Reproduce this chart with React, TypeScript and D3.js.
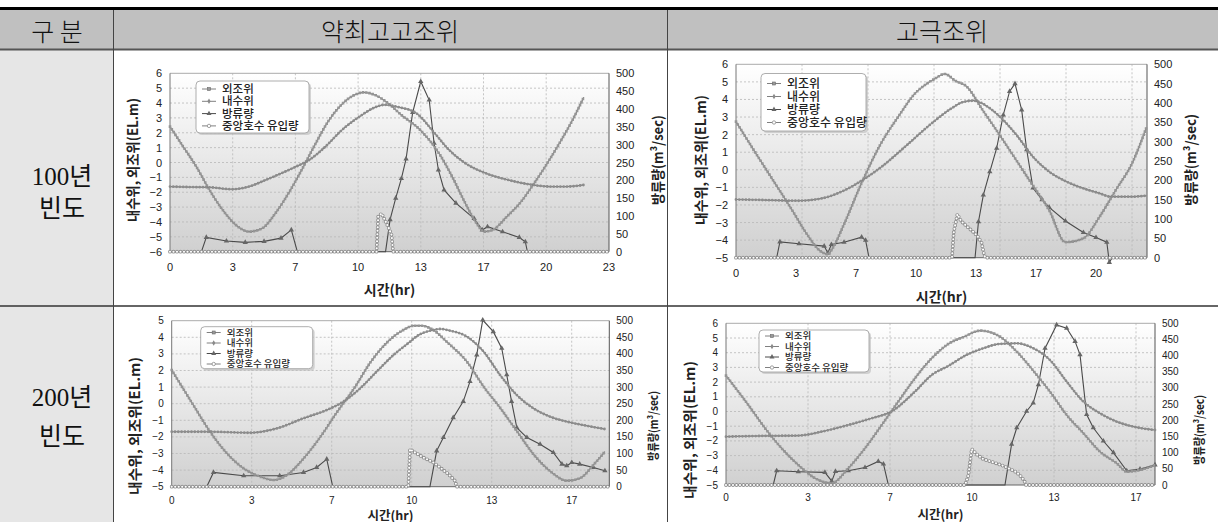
import React, { useEffect, useRef } from 'react';
import * as d3 from 'd3';

type Pt = [number, number];

// table text
const colHeaders = ['구 분', '약최고고조위', '고극조위'];
const rowHeaders = [['100년', '빈도'], ['200년', '빈도']];
const legendNames = ['외조위', '내수위', '방류량', '중앙호수 유입량'];
const leftTitle = '내수위, 외조위(EL.m)';
const rightTitle = '방류량(m³/sec)';
const xTitle = '시간(hr)';

// x tick labels (one label every 200 min)
const xLabels23 = ['0', '3', '7', '10', '13', '17', '20', '23'];
const xLabels20 = ['0', '3', '7', '10', '13', '17', '20'];
const xLabels17 = ['0', '3', '7', '10', '13', '17'];
const flowTicks = [0, 50, 100, 150, 200, 250, 300, 350, 400, 450, 500];

// ---- 약최고고조위 / 100년 빈도  [hour, value]
const outerA100: Pt[] = [[0, 2.41], [0.7, 1.07], [1.4, -0.28], [2.1, -1.85], [2.8, -3.19], [3.5, -4.2], [4.2, -4.65], [4.9, -4.43], [5.6, -3.42], [6.3, -2.07], [7.0, -0.5], [7.7, 1.18], [8.4, 2.75], [9.1, 3.87], [9.8, 4.54], [10.3, 4.72], [10.9, 4.54], [11.6, 3.98], [12.3, 3.2], [13.3, 2.19], [14.3, 0.62], [15.0, -0.95], [15.7, -2.74], [16.3, -4.09], [16.7, -4.65], [17.15, -4.54], [17.9, -3.65], [18.6, -2.74], [19.3, -1.51], [20.0, -0.17], [20.7, 1.29], [21.4, 2.86], [22.0, 4.39]];
const innerA100: Pt[] = [[0, -1.62], [1, -1.65], [2.1, -1.67], [3.3, -1.8], [4.2, -1.62], [5.1, -1.17], [6.0, -0.68], [6.7, -0.28], [7.4, 0.17], [8.3, 1.11], [9.1, 2.14], [10.0, 3.02], [10.9, 3.71], [11.4, 3.88], [12.2, 3.71], [13.1, 3.31], [14.0, 2.08], [14.8, 0.89], [15.7, -0.05], [16.8, -0.73], [18.0, -1.18], [19.3, -1.51], [20.2, -1.62], [21.1, -1.62], [22.0, -1.51]];
const flowA100: Pt[] = [[0, 0], [1.67, 0], [1.93, 40], [3.0, 30], [4.0, 26], [5.0, 29], [5.9, 38], [6.45, 61], [6.77, 0], [11.46, 0], [11.7, 90], [12.0, 150], [12.3, 205], [12.55, 260], [12.9, 390], [13.33, 477], [13.78, 425], [14.04, 304], [14.27, 229], [14.57, 173], [15.2, 136], [16.17, 93], [16.6, 61], [16.88, 70], [17.68, 56], [18.57, 40], [18.89, 28], [19.0, 0], [23.33, 0]];
const inflowA100: Pt[] = [[0, 0], [10.98, 0], [11.07, 98], [11.25, 107], [11.42, 89], [11.6, 70], [11.78, 47], [11.86, 0], [23.33, 0]];

// ---- 고극조위 / 100년 빈도
const outerB100: Pt[] = [[0, 2.74], [1, 1.1], [2, -0.5], [3, -2.1], [4, -3.75], [4.6, -4.55], [5.1, -4.8], [5.4, -4.4], [6.0, -3.1], [7.0, -0.7], [8.0, 1.4], [9.0, 3.0], [10.0, 4.4], [10.6, 4.9], [11.0, 5.15], [11.6, 5.45], [12.2, 5.05], [12.8, 4.75], [13.7, 3.4], [14.7, 1.9], [15.6, 0.5], [16.5, -0.9], [17.4, -2.3], [18.3, -4.12], [19.3, -3.9], [20.2, -2.67], [21.1, -1.15], [22.0, 0.36], [22.8, 2.4]];
const innerB100: Pt[] = [[0, -1.69], [1.6, -1.72], [3.46, -1.76], [4.76, -1.63], [6.06, -1.15], [7.17, -0.49], [8.09, 0.17], [9.39, 1.31], [10.87, 2.64], [11.98, 3.5], [12.6, 3.85], [13.2, 3.93], [14.1, 3.5], [14.66, 3.02], [15.58, 1.98], [16.5, 0.74], [17.4, -0.11], [18.37, -0.68], [19.3, -1.06], [20.2, -1.34], [20.8, -1.53], [22.0, -1.53], [22.8, -1.47]];
const flowB100: Pt[] = [[0, 0], [2.26, 0], [2.44, 41], [3.5, 36], [4.9, 30], [5.1, 12], [5.3, 34], [6.0, 40], [6.98, 53], [7.2, 45], [7.39, 0], [13.28, 0], [13.47, 93], [13.74, 162], [14.1, 222], [14.48, 283], [14.85, 369], [15.2, 430], [15.5, 450], [15.87, 382], [16.15, 279], [16.5, 180], [17.0, 150], [17.4, 130], [18.3, 95], [19.3, 65], [20.0, 52], [20.6, 40], [20.74, -12], [20.9, 0], [22.83, 0]];
const inflowB100: Pt[] = [[0, 0], [12.0, 0], [12.1, 67], [12.3, 112], [12.5, 95], [12.8, 82], [13.1, 70], [13.4, 57], [13.65, 38], [13.78, 8], [13.85, 0], [22.83, 0]];

// ---- 약최고고조위 / 200년 빈도
const outerA200: Pt[] = [[0, 2.03], [0.9, -0.08], [1.6, -1.69], [2.3, -2.99], [3.0, -3.9], [3.7, -4.4], [4.24, -4.6], [4.8, -4.3], [5.5, -3.29], [6.2, -1.99], [6.9, -0.48], [7.6, 0.92], [8.3, 2.53], [9.0, 3.73], [9.65, 4.44], [10.1, 4.7], [10.4, 4.7], [10.9, 4.44], [11.46, 3.73], [12.3, 2.53], [13.0, 1.02], [13.7, -0.28], [14.4, -1.69], [15.1, -3.09], [15.8, -4.1], [16.46, -4.64], [17.0, -4.5], [17.57, -3.69], [18.05, -2.89]];
const innerA200: Pt[] = [[0, -1.69], [1.6, -1.69], [3.26, -1.75], [4.38, -1.49], [5.49, -0.88], [6.46, -0.38], [7.15, 0.12], [7.85, 0.92], [8.54, 1.93], [9.24, 2.93], [9.93, 3.73], [10.2, 4.05], [10.9, 4.44], [11.2, 4.5], [11.6, 4.4], [12.3, 4.04], [13.0, 3.13], [13.68, 1.73], [14.38, 0.52], [15.07, -0.28], [15.76, -0.78], [16.46, -1.08], [17.15, -1.29], [18.05, -1.53]];
const flowA200: Pt[] = [[0, 0], [1.46, 0], [1.74, 43], [3.0, 33], [4.5, 33], [5.49, 43], [6.04, 58], [6.46, 83], [6.71, 0], [10.76, 0], [11.04, 108], [11.32, 148], [11.73, 208], [12.15, 257], [12.43, 317], [12.71, 397], [12.96, 502], [13.4, 467], [13.75, 417], [13.96, 337], [14.16, 257], [14.38, 178], [14.8, 148], [15.35, 128], [15.9, 103], [16.26, 68], [16.46, 63], [16.67, 73], [17.0, 68], [17.57, 58], [18.05, 48]];
const inflowA200: Pt[] = [[0, 0], [9.86, 0], [9.93, 113], [10.14, 103], [10.49, 88], [10.9, 73], [11.18, 58], [11.53, 38], [11.8, 18], [11.88, 0], [18.23, 0]];

// ---- 고극조위 / 200년 빈도
const outerB200: Pt[] = [[0, 2.44], [0.91, 0.44], [1.59, -1.14], [2.26, -2.5], [2.94, -3.64], [3.62, -4.54], [4.3, -4.88], [4.97, -3.86], [5.65, -2.5], [6.33, -0.92], [7.0, 0.67], [7.68, 2.26], [8.36, 3.62], [9.04, 4.6], [9.7, 5.1], [10.33, 5.5], [11.14, 5.09], [11.82, 4.07], [12.63, 2.49], [13.17, 1.35], [13.85, -0.24], [14.53, -1.48], [15.2, -2.73], [15.88, -3.52], [16.29, -4.09], [16.83, -3.98], [17.44, -3.64]];
const innerB200: Pt[] = [[0, -1.71], [1.59, -1.66], [2.94, -1.64], [3.89, -1.37], [4.97, -0.92], [5.92, -0.46], [6.73, 0.0], [7.68, 1.35], [8.36, 2.48], [9.04, 3.1], [9.78, 3.85], [10.46, 4.3], [11.14, 4.6], [11.82, 4.64], [12.49, 4.3], [13.17, 3.5], [13.85, 2.03], [14.53, 0.67], [15.2, -0.12], [15.88, -0.69], [16.56, -1.03], [17.44, -1.26]];
const flowB200: Pt[] = [[0, 0], [1.92, 0], [2.06, 44], [2.94, 41], [4.02, 39], [4.3, 12], [4.45, 42], [4.97, 44], [5.65, 54], [6.19, 73], [6.4, 65], [6.6, 0], [11.34, 0], [11.61, 126], [11.82, 177], [12.22, 228], [12.49, 254], [12.7, 310], [12.97, 423], [13.44, 495], [13.85, 485], [14.19, 444], [14.39, 403], [14.66, 218], [14.93, 177], [15.34, 136], [15.75, 100], [16.29, 44], [16.83, 49], [17.44, 62]];
const inflowB200: Pt[] = [[0, 0], [9.72, 0], [9.85, 29], [9.99, 111], [10.19, 95], [10.46, 80], [10.87, 70], [11.28, 59], [11.55, 49], [11.82, 39], [12.02, 24], [12.16, 8], [12.2, 0], [17.44, 0]];

const HOURS_PER_TICK = 10 / 3;
const KR = "'Noto Sans CJK KR', sans-serif";
const NUM = "'Liberation Sans', Arial, sans-serif";

const panels = [
  {
    outer: outerA100, inner: innerA100, flow: flowA100, inflow: inflowA100,
    x0: 170, x1: 609, y0: 73.3, y1: 251.7, tickPx: 62.7, gridPx: 62.7,
    yMin: -6, yMax: 6, xLabels: xLabels23, tickFont: 11,
    legend: { x: 196, y: 81, w: 113, h: 52, first: 89, row: 12.3, font: 11.5 },
    leftX: 132, leftLen: 124, rightX: 657, rightLen: 90, titleY: 160, titleFont: 14,
    xTickY: 267, xTitleY: 289, xTitleFont: 14,
  },
  {
    outer: outerB100, inner: innerB100, flow: flowB100, inflow: inflowB100,
    x0: 736, x1: 1147, y0: 64.3, y1: 257.7, tickPx: 60, gridPx: 66,
    yMin: -5, yMax: 6, xLabels: xLabels20, tickFont: 11,
    legend: { x: 761, y: 73.5, w: 105, h: 57.5, first: 83.5, row: 13, font: 12 },
    leftX: 700, leftLen: 130, rightX: 1190, rightLen: 92, titleY: 160, titleFont: 14,
    xTickY: 273, xTitleY: 296, xTitleFont: 14,
  },
  {
    outer: outerA200, inner: innerA200, flow: flowA200, inflow: inflowA200,
    x0: 171.7, x1: 609.3, y0: 320.7, y1: 486.7, tickPx: 80, gridPx: 80,
    yMin: -5, yMax: 5, xLabels: xLabels17, tickFont: 10,
    legend: { x: 200.7, y: 326.7, w: 112, h: 42, first: 332.5, row: 10.5, font: 9.5 },
    leftX: 134, leftLen: 138, rightX: 652, rightLen: 70, titleY: 426, titleFont: 14,
    xTickY: 500, xTitleY: 514, xTitleFont: 12.5,
  },
  {
    outer: outerB200, inner: innerB200, flow: flowB200, inflow: inflowB200,
    x0: 726, x1: 1155, y0: 323.3, y1: 485, tickPx: 82, gridPx: 82,
    yMin: -5, yMax: 6, xLabels: xLabels17, tickFont: 10,
    legend: { x: 759, y: 330, w: 110, h: 42, first: 336, row: 10.5, font: 9.5 },
    leftX: 689, leftLen: 138, rightX: 1198, rightLen: 70, titleY: 430, titleFont: 14,
    xTickY: 497, xTitleY: 513, xTitleFont: 12.5,
  },
];

function drawTable(svg: any) {
  svg.append('rect').attr('x', 0).attr('y', 9).attr('width', 1218).attr('height', 41).attr('fill', '#c0c0c0');
  svg.append('rect').attr('x', 0).attr('y', 50).attr('width', 113).attr('height', 472).attr('fill', '#e6e6e6');

  svg.append('line').attr('x1', 0).attr('x2', 1218).attr('y1', 8.5).attr('y2', 8.5)
    .attr('stroke', '#000').attr('stroke-width', 3);
  svg.append('line').attr('x1', 0).attr('x2', 1218).attr('y1', 49.5).attr('y2', 49.5)
    .attr('stroke', '#555').attr('stroke-width', 2);
  svg.append('line').attr('x1', 0).attr('x2', 1218).attr('y1', 306).attr('y2', 306)
    .attr('stroke', '#333').attr('stroke-width', 1.5);
  [113.5, 667.5].forEach(xv => {
    svg.append('line').attr('x1', xv).attr('x2', xv).attr('y1', 10).attr('y2', 522)
      .attr('stroke', '#444').attr('stroke-width', 1);
  });

  const headerX = [57, 390, 942];
  colHeaders.forEach((t, i) => {
    svg.append('text').attr('x', headerX[i]).attr('y', 30).text(t)
      .attr('text-anchor', 'middle').attr('dominant-baseline', 'central')
      .attr('font-family', KR).attr('font-size', 25).attr('font-weight', 300).attr('fill', '#111');
  });
  const rowY = [[176, 208], [397, 436]];
  rowHeaders.forEach((lines, r) => {
    lines.forEach((t, k) => {
      svg.append('text').attr('x', 62).attr('y', rowY[r][k]).text(t)
        .attr('text-anchor', 'middle').attr('dominant-baseline', 'central')
        .attr('font-family', "'Liberation Serif', 'Noto Sans CJK KR', serif")
        .attr('font-size', 25).attr('fill', '#111');
    });
  });
}

function marker(g: any, kind: number, cx: number, cy: number, s: number) {
  if (kind === 0) {
    g.append('rect').attr('x', cx - s / 2).attr('y', cy - s / 2).attr('width', s).attr('height', s)
      .attr('fill', '#9a9a9a').attr('stroke', '#6a6a6a').attr('stroke-width', 0.6);
  } else if (kind === 1) {
    g.append('path').attr('d', d3.symbol(d3.symbolDiamond).size(s * s)()).attr('transform', `translate(${cx},${cy})`)
      .attr('fill', '#8a8a8a');
  } else if (kind === 2) {
    g.append('path').attr('d', d3.symbol(d3.symbolTriangle).size(s * s * 1.2)()).attr('transform', `translate(${cx},${cy})`)
      .attr('fill', '#666');
  } else {
    g.append('circle').attr('cx', cx).attr('cy', cy).attr('r', s / 2)
      .attr('fill', '#fff').attr('stroke', '#8a8a8a').attr('stroke-width', 0.8);
  }
}

function drawPanel(svg: any, p: any, idx: number) {
  const pxPerHour = p.tickPx / HOURS_PER_TICK;
  const hMax = (p.x1 - p.x0) / pxPerHour;
  const x = d3.scaleLinear().domain([0, hMax]).range([p.x0, p.x1]);
  const y = d3.scaleLinear().domain([p.yMin, p.yMax]).range([p.y1, p.y0]);
  const yq = d3.scaleLinear().domain([0, 500]).range([p.y1, p.y0]);
  const g = svg.append('g');

  const gid = 'plotbg' + idx;
  const grad = svg.append('defs').append('linearGradient').attr('id', gid)
    .attr('x1', 0).attr('y1', 0).attr('x2', 0).attr('y2', 1);
  grad.append('stop').attr('offset', '0%').attr('stop-color', '#ffffff');
  grad.append('stop').attr('offset', '100%').attr('stop-color', '#d0d0d0');
  g.append('rect').attr('x', p.x0).attr('y', p.y0).attr('width', p.x1 - p.x0).attr('height', p.y1 - p.y0)
    .attr('fill', `url(#${gid})`);

  // grid
  const yTicks = d3.range(p.yMin, p.yMax + 1);
  g.selectAll('line.hg').data(yTicks.slice(1, -1)).join('line').attr('class', 'hg')
    .attr('x1', p.x0).attr('x2', p.x1).attr('y1', (d: number) => y(d)).attr('y2', (d: number) => y(d))
    .attr('stroke', '#b8b8b8').attr('stroke-width', 0.8).attr('stroke-dasharray', '2,2');
  const gridH = d3.range(1, 12).map(i => (i * p.gridPx) / pxPerHour).filter(h => h < hMax - 0.2);
  g.selectAll('line.vg').data(gridH).join('line').attr('class', 'vg')
    .attr('x1', (d: number) => x(d)).attr('x2', (d: number) => x(d)).attr('y1', p.y0).attr('y2', p.y1)
    .attr('stroke', '#b8b8b8').attr('stroke-width', 0.8).attr('stroke-dasharray', '2,2');

  // frame
  g.append('line').attr('x1', p.x0).attr('x2', p.x1).attr('y1', p.y0).attr('y2', p.y0).attr('stroke', '#aaa');
  g.append('line').attr('x1', p.x0).attr('x2', p.x0).attr('y1', p.y0).attr('y2', p.y1).attr('stroke', '#777');
  g.append('line').attr('x1', p.x1).attr('x2', p.x1).attr('y1', p.y0).attr('y2', p.y1).attr('stroke', '#555');
  g.append('line').attr('x1', p.x0).attr('x2', p.x1).attr('y1', p.y1).attr('y2', p.y1).attr('stroke', '#666');

  // tick labels
  g.selectAll('text.yl').data(yTicks).join('text').attr('class', 'yl')
    .attr('x', p.x0 - 8).attr('y', (d: number) => y(d)).text((d: number) => d3.format('d')(d))
    .attr('text-anchor', 'end').attr('dominant-baseline', 'central')
    .attr('font-family', NUM).attr('font-size', p.tickFont).attr('fill', '#222');
  g.selectAll('text.yr').data(flowTicks).join('text').attr('class', 'yr')
    .attr('x', p.x1 + 7).attr('y', (d: number) => yq(d)).text((d: number) => String(d))
    .attr('text-anchor', 'start').attr('dominant-baseline', 'central')
    .attr('font-family', NUM).attr('font-size', p.tickFont).attr('fill', '#222');
  g.selectAll('text.xl').data(p.xLabels).join('text').attr('class', 'xl')
    .attr('x', (_: string, i: number) => x(i * HOURS_PER_TICK)).attr('y', p.xTickY).text((d: string) => d)
    .attr('text-anchor', 'middle').attr('dominant-baseline', 'central')
    .attr('font-family', NUM).attr('font-size', p.tickFont).attr('fill', '#222');

  // axis titles
  const title = (t: string, tx: number, ty: number, rot: number, size: number, len?: number) => {
    const el = g.append('text').attr('transform', `translate(${tx},${ty}) rotate(${rot})`).text(t)
      .attr('text-anchor', 'middle').attr('dominant-baseline', 'central')
      .attr('font-family', KR).attr('font-weight', 700).attr('font-size', size).attr('fill', '#222');
    if (len) el.attr('textLength', len).attr('lengthAdjust', 'spacingAndGlyphs');
  };
  title(leftTitle, p.leftX, p.titleY, -90, p.titleFont, p.leftLen);
  title(rightTitle, p.rightX, p.titleY, -90, p.titleFont - (p.rightLen < 80 ? 2 : 0), p.rightLen);
  title(xTitle, (p.x0 + p.x1) / 2, p.xTitleY, 0, p.xTitleFont);

  // series
  const smooth = d3.line<Pt>().x(d => x(d[0])).y(d => y(d[1])).curve(d3.curveMonotoneX);
  const flowLine = d3.line<Pt>().x(d => x(d[0])).y(d => yq(d[1]));

  // 방류량
  g.append('path').attr('d', flowLine(p.flow)).attr('fill', 'none').attr('stroke', '#4a4a4a').attr('stroke-width', 1.1);
  p.flow.forEach((d: Pt) => {
    if (d[1] !== 0) marker(g, 2, x(d[0]), yq(d[1]), 3.2);
  });

  // 외조위 (squares)
  g.append('path').attr('d', smooth(p.outer)).attr('fill', 'none').attr('stroke', '#7a7a7a').attr('stroke-width', 1.2);
  g.append('path').attr('d', smooth(p.outer)).attr('fill', 'none').attr('stroke', '#959595')
    .attr('stroke-width', 2.6).attr('stroke-linecap', 'square').attr('stroke-dasharray', '0 3.3');

  // 내수위 (small dots)
  g.append('path').attr('d', smooth(p.inner)).attr('fill', 'none').attr('stroke', '#7a7a7a').attr('stroke-width', 1.2);
  g.append('path').attr('d', smooth(p.inner)).attr('fill', 'none').attr('stroke', '#8c8c8c')
    .attr('stroke-width', 2.8).attr('stroke-linecap', 'round').attr('stroke-dasharray', '0 3.3');

  // 중앙호수 유입량 (open circles)
  const inflowD = flowLine(p.inflow);
  g.append('path').attr('d', inflowD).attr('fill', 'none').attr('stroke', '#999').attr('stroke-width', 0.8);
  g.append('path').attr('d', inflowD).attr('fill', 'none').attr('stroke', '#8f8f8f')
    .attr('stroke-width', 3.8).attr('stroke-linecap', 'round').attr('stroke-dasharray', '0 3.5');
  g.append('path').attr('d', inflowD).attr('fill', 'none').attr('stroke', '#ffffff')
    .attr('stroke-width', 2.1).attr('stroke-linecap', 'round').attr('stroke-dasharray', '0 3.5');

  // legend: one text block, one line per series
  const L = p.legend;
  g.append('rect').attr('x', L.x + 2).attr('y', L.y + 2).attr('width', L.w).attr('height', L.h)
    .attr('rx', 4).attr('fill', '#bbb').attr('opacity', 0.6);
  g.append('rect').attr('x', L.x).attr('y', L.y).attr('width', L.w).attr('height', L.h)
    .attr('rx', 4).attr('fill', '#fff').attr('stroke', '#999').attr('stroke-width', 0.8);
  legendNames.forEach((_, i) => {
    const cy = L.first + i * L.row;
    g.append('line').attr('x1', L.x + 6).attr('x2', L.x + 20).attr('y1', cy).attr('y2', cy)
      .attr('stroke', i === 2 ? '#4a4a4a' : '#808080').attr('stroke-width', 1);
    marker(g, i, L.x + 13, cy, i === 3 ? 3.4 : 3);
  });
  const block = g.append('text').attr('font-family', KR).attr('font-weight', 500)
    .attr('font-size', L.font).attr('fill', '#222');
  legendNames.forEach((name, i) => {
    block.append('tspan').attr('x', L.x + 26).attr('y', L.first + i * L.row + L.font * 0.36).text(name);
  });
}

export default function App() {
  const ref = useRef<SVGSVGElement>(null);

  useEffect(() => {
    const svg = d3.select(ref.current);
    svg.selectAll('*').remove();
    drawTable(svg);
    panels.forEach((p, i) => drawPanel(svg, p, i));
  }, []);

  return (
    <svg ref={ref} width={1218} height={522}
      style={{ position: 'absolute', left: 0, top: 0, background: '#ffffff', display: 'block' }} />
  );
}
